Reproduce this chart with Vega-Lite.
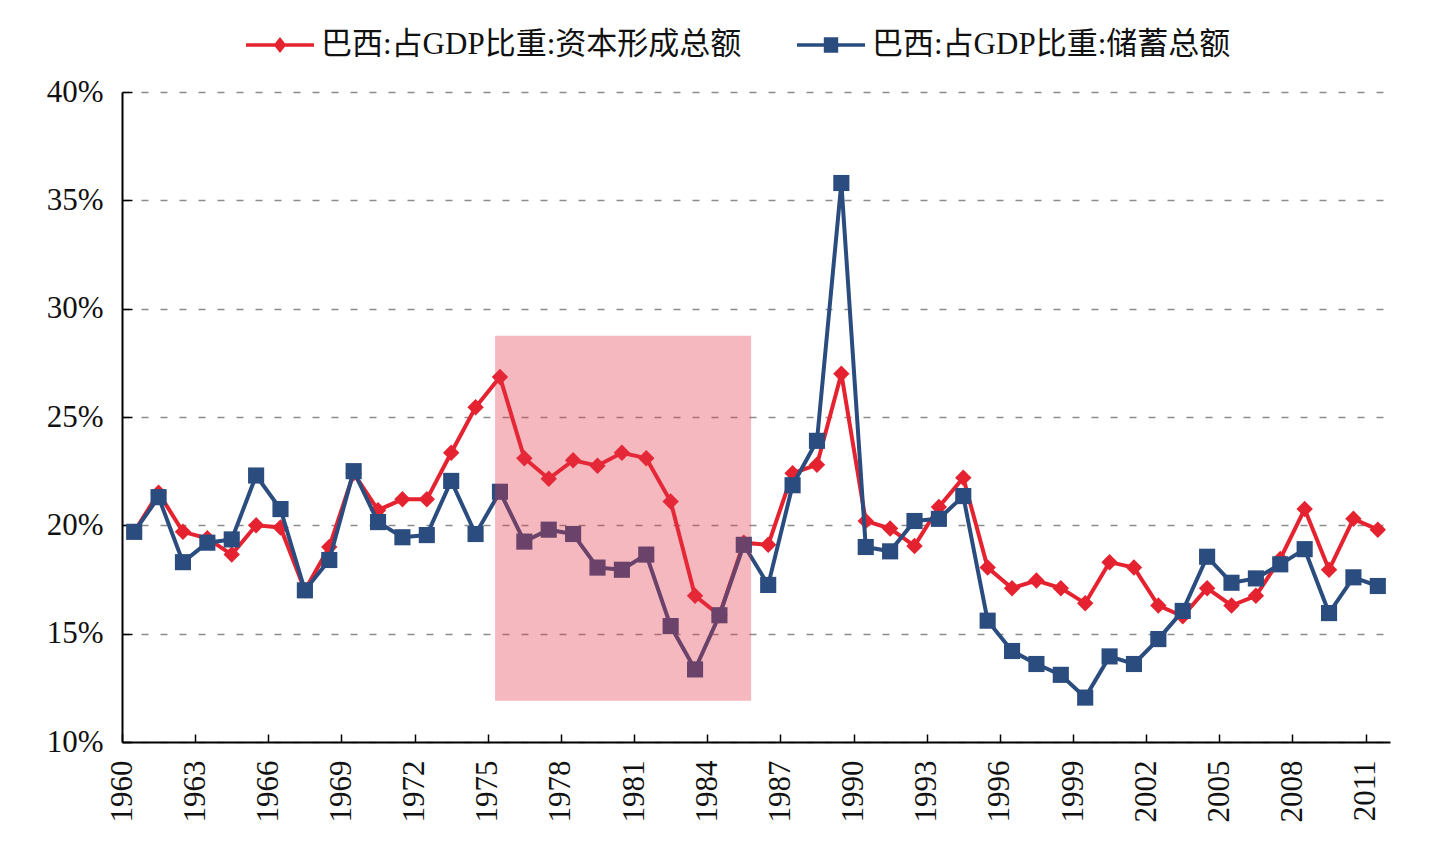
{
  "$schema": "https://vega.github.io/schema/vega-lite/v6.json",
  "width": 1268,
  "height": 650,
  "autosize": {"type": "none"},
  "padding": {"left": 122, "top": 92, "right": 39, "bottom": 113},
  "background": "#ffffff",
  "config": {"view": {"stroke": null}, "font": "Liberation Serif"},
  "datasets": {
    "ratios": [
      {"year": 1960, "巴西:占GDP比重:资本形成总额": 19.7, "巴西:占GDP比重:储蓄总额": 19.7},
      {"year": 1961, "巴西:占GDP比重:资本形成总额": 21.5, "巴西:占GDP比重:储蓄总额": 21.3},
      {"year": 1962, "巴西:占GDP比重:资本形成总额": 19.7, "巴西:占GDP比重:储蓄总额": 18.3},
      {"year": 1963, "巴西:占GDP比重:资本形成总额": 19.4, "巴西:占GDP比重:储蓄总额": 19.2},
      {"year": 1964, "巴西:占GDP比重:资本形成总额": 18.65, "巴西:占GDP比重:储蓄总额": 19.35},
      {"year": 1965, "巴西:占GDP比重:资本形成总额": 20.0, "巴西:占GDP比重:储蓄总额": 22.3},
      {"year": 1966, "巴西:占GDP比重:资本形成总额": 19.9, "巴西:占GDP比重:储蓄总额": 20.75},
      {"year": 1967, "巴西:占GDP比重:资本形成总额": 17.0, "巴西:占GDP比重:储蓄总额": 17.0},
      {"year": 1968, "巴西:占GDP比重:资本形成总额": 19.0, "巴西:占GDP比重:储蓄总额": 18.4},
      {"year": 1969, "巴西:占GDP比重:资本形成总额": 22.4, "巴西:占GDP比重:储蓄总额": 22.5},
      {"year": 1970, "巴西:占GDP比重:资本形成总额": 20.7, "巴西:占GDP比重:储蓄总额": 20.15},
      {"year": 1971, "巴西:占GDP比重:资本形成总额": 21.2, "巴西:占GDP比重:储蓄总额": 19.45},
      {"year": 1972, "巴西:占GDP比重:资本形成总额": 21.2, "巴西:占GDP比重:储蓄总额": 19.55},
      {"year": 1973, "巴西:占GDP比重:资本形成总额": 23.35, "巴西:占GDP比重:储蓄总额": 22.05},
      {"year": 1974, "巴西:占GDP比重:资本形成总额": 25.45, "巴西:占GDP比重:储蓄总额": 19.6},
      {"year": 1975, "巴西:占GDP比重:资本形成总额": 26.85, "巴西:占GDP比重:储蓄总额": 21.55},
      {"year": 1976, "巴西:占GDP比重:资本形成总额": 23.1, "巴西:占GDP比重:储蓄总额": 19.25},
      {"year": 1977, "巴西:占GDP比重:资本形成总额": 22.15, "巴西:占GDP比重:储蓄总额": 19.8},
      {"year": 1978, "巴西:占GDP比重:资本形成总额": 23.0, "巴西:占GDP比重:储蓄总额": 19.6},
      {"year": 1979, "巴西:占GDP比重:资本形成总额": 22.75, "巴西:占GDP比重:储蓄总额": 18.05},
      {"year": 1980, "巴西:占GDP比重:资本形成总额": 23.35, "巴西:占GDP比重:储蓄总额": 17.95},
      {"year": 1981, "巴西:占GDP比重:资本形成总额": 23.1, "巴西:占GDP比重:储蓄总额": 18.65},
      {"year": 1982, "巴西:占GDP比重:资本形成总额": 21.1, "巴西:占GDP比重:储蓄总额": 15.35},
      {"year": 1983, "巴西:占GDP比重:资本形成总额": 16.75, "巴西:占GDP比重:储蓄总额": 13.35},
      {"year": 1984, "巴西:占GDP比重:资本形成总额": 15.85, "巴西:占GDP比重:储蓄总额": 15.85},
      {"year": 1985, "巴西:占GDP比重:资本形成总额": 19.2, "巴西:占GDP比重:储蓄总额": 19.1},
      {"year": 1986, "巴西:占GDP比重:资本形成总额": 19.1, "巴西:占GDP比重:储蓄总额": 17.25},
      {"year": 1987, "巴西:占GDP比重:资本形成总额": 22.4, "巴西:占GDP比重:储蓄总额": 21.85},
      {"year": 1988, "巴西:占GDP比重:资本形成总额": 22.8, "巴西:占GDP比重:储蓄总额": 23.9},
      {"year": 1989, "巴西:占GDP比重:资本形成总额": 27.0, "巴西:占GDP比重:储蓄总额": 35.8},
      {"year": 1990, "巴西:占GDP比重:资本形成总额": 20.2, "巴西:占GDP比重:储蓄总额": 19.0},
      {"year": 1991, "巴西:占GDP比重:资本形成总额": 19.85, "巴西:占GDP比重:储蓄总额": 18.8},
      {"year": 1992, "巴西:占GDP比重:资本形成总额": 19.05, "巴西:占GDP比重:储蓄总额": 20.2},
      {"year": 1993, "巴西:占GDP比重:资本形成总额": 20.85, "巴西:占GDP比重:储蓄总额": 20.3},
      {"year": 1994, "巴西:占GDP比重:资本形成总额": 22.2, "巴西:占GDP比重:储蓄总额": 21.35},
      {"year": 1995, "巴西:占GDP比重:资本形成总额": 18.05, "巴西:占GDP比重:储蓄总额": 15.6},
      {"year": 1996, "巴西:占GDP比重:资本形成总额": 17.1, "巴西:占GDP比重:储蓄总额": 14.2},
      {"year": 1997, "巴西:占GDP比重:资本形成总额": 17.45, "巴西:占GDP比重:储蓄总额": 13.6},
      {"year": 1998, "巴西:占GDP比重:资本形成总额": 17.1, "巴西:占GDP比重:储蓄总额": 13.1},
      {"year": 1999, "巴西:占GDP比重:资本形成总额": 16.4, "巴西:占GDP比重:储蓄总额": 12.05},
      {"year": 2000, "巴西:占GDP比重:资本形成总额": 18.3, "巴西:占GDP比重:储蓄总额": 13.95},
      {"year": 2001, "巴西:占GDP比重:资本形成总额": 18.05, "巴西:占GDP比重:储蓄总额": 13.6},
      {"year": 2002, "巴西:占GDP比重:资本形成总额": 16.3, "巴西:占GDP比重:储蓄总额": 14.75},
      {"year": 2003, "巴西:占GDP比重:资本形成总额": 15.8, "巴西:占GDP比重:储蓄总额": 16.05},
      {"year": 2004, "巴西:占GDP比重:资本形成总额": 17.1, "巴西:占GDP比重:储蓄总额": 18.55},
      {"year": 2005, "巴西:占GDP比重:资本形成总额": 16.3, "巴西:占GDP比重:储蓄总额": 17.35},
      {"year": 2006, "巴西:占GDP比重:资本形成总额": 16.75, "巴西:占GDP比重:储蓄总额": 17.55},
      {"year": 2007, "巴西:占GDP比重:资本形成总额": 18.45, "巴西:占GDP比重:储蓄总额": 18.2},
      {"year": 2008, "巴西:占GDP比重:资本形成总额": 20.75, "巴西:占GDP比重:储蓄总额": 18.9},
      {"year": 2009, "巴西:占GDP比重:资本形成总额": 17.95, "巴西:占GDP比重:储蓄总额": 15.95},
      {"year": 2010, "巴西:占GDP比重:资本形成总额": 20.3, "巴西:占GDP比重:储蓄总额": 17.6},
      {"year": 2011, "巴西:占GDP比重:资本形成总额": 19.8, "巴西:占GDP比重:储蓄总额": 17.2}
    ],
    "highlight": [
      {"start": 1974.8, "end": 1985.3, "low": 11.9, "high": 28.75}
    ]
  },
  "layer": [
    {
      "data": {"name": "ratios"},
      "transform": [
        {"fold": ["巴西:占GDP比重:资本形成总额", "巴西:占GDP比重:储蓄总额"], "as": ["series", "share"]}
      ],
      "encoding": {
        "x": {
          "field": "year",
          "type": "quantitative",
          "title": null,
          "scale": {"domain": [1959.5, 2011.5], "nice": false, "zero": false},
          "axis": {
            "title": null,
            "values": [1959.5, 1962.5, 1965.5, 1968.5, 1971.5, 1974.5, 1977.5, 1980.5, 1983.5, 1986.5, 1989.5, 1992.5, 1995.5, 1998.5, 2001.5, 2004.5, 2007.5, 2010.5],
            "labelExpr": "'' + (datum.value + 0.5)",
            "labelAngle": 270,
            "labelFont": "Liberation Serif",
            "labelFontSize": 31,
            "labelColor": "#111111",
            "labelPadding": 26,
            "labelFlush": false,
            "labelOverlap": false,
            "tickSize": -8,
            "tickColor": "#000000",
            "tickWidth": 1.5,
            "domainColor": "#000000",
            "domainWidth": 2,
            "grid": false
          }
        },
        "y": {
          "field": "share",
          "type": "quantitative",
          "title": null,
          "scale": {"domain": [10, 40], "nice": false, "zero": false},
          "axis": {
            "title": null,
            "values": [10, 15, 20, 25, 30, 35, 40],
            "labelExpr": "datum.value + '%'",
            "labelFont": "Liberation Serif",
            "labelFontSize": 31,
            "labelColor": "#111111",
            "labelPadding": 29,
            "labelFlush": false,
            "tickSize": -10,
            "tickColor": "#000000",
            "tickWidth": 1.5,
            "domainColor": "#000000",
            "domainWidth": 2,
            "grid": true,
            "gridColor": "#8c8c8c",
            "gridWidth": 1.5,
            "gridDash": [7, 12]
          }
        },
        "color": {
          "field": "series",
          "type": "nominal",
          "scale": {
            "domain": ["巴西:占GDP比重:资本形成总额", "巴西:占GDP比重:储蓄总额"],
            "range": ["#e52330", "#2b4c7e"]
          },
          "legend": {
            "title": null,
            "orient": "none",
            "legendX": 122,
            "legendY": -83,
            "direction": "horizontal",
            "padding": 0,
            "symbolSize": 4624,
            "symbolStrokeWidth": 3.5,
            "labelFont": "Liberation Serif, Noto Sans CJK SC",
            "labelFontSize": 31,
            "labelColor": "#111111",
            "labelOffset": 5,
            "labelLimit": 0,
            "columnPadding": 48,
            "encode": {
              "symbols": {
                "update": {
                  "shape": {"signal": "datum.value === '巴西:占GDP比重:资本形成总额' ? 'M-1,0L1,0M0,-0.15L0.12,0L0,0.15L-0.12,0Z' : 'M-1,0L1,0M-0.16,-0.18L0.16,-0.18L0.16,0.18L-0.16,0.18Z'"},
                  "fill": {"signal": "scale('color', datum.value)"},
                  "stroke": {"signal": "scale('color', datum.value)"},
                  "strokeWidth": {"value": 3.5},
                  "size": {"value": 4624},
                  "opacity": {"value": 1}
                }
              }
            }
          }
        }
      },
      "layer": [
        {
          "transform": [{"filter": "datum.series === '巴西:占GDP比重:资本形成总额'"}],
          "mark": {"type": "line", "strokeWidth": 4}
        },
        {
          "transform": [{"filter": "datum.series === '巴西:占GDP比重:资本形成总额'"}],
          "mark": {"type": "point", "shape": "diamond", "filled": true, "size": 270, "opacity": 1}
        },
        {
          "transform": [{"filter": "datum.series === '巴西:占GDP比重:储蓄总额'"}],
          "mark": {"type": "line", "strokeWidth": 4}
        },
        {
          "transform": [{"filter": "datum.series === '巴西:占GDP比重:储蓄总额'"}],
          "mark": {"type": "point", "shape": "square", "filled": true, "size": 260, "opacity": 1}
        }
      ]
    },
    {
      "data": {"name": "highlight"},
      "mark": {"type": "rect", "color": "#e23445", "opacity": 0.35},
      "encoding": {
        "x": {"field": "start", "type": "quantitative", "title": null},
        "x2": {"field": "end"},
        "y": {"field": "low", "type": "quantitative", "title": null},
        "y2": {"field": "high"}
      }
    }
  ]
}
